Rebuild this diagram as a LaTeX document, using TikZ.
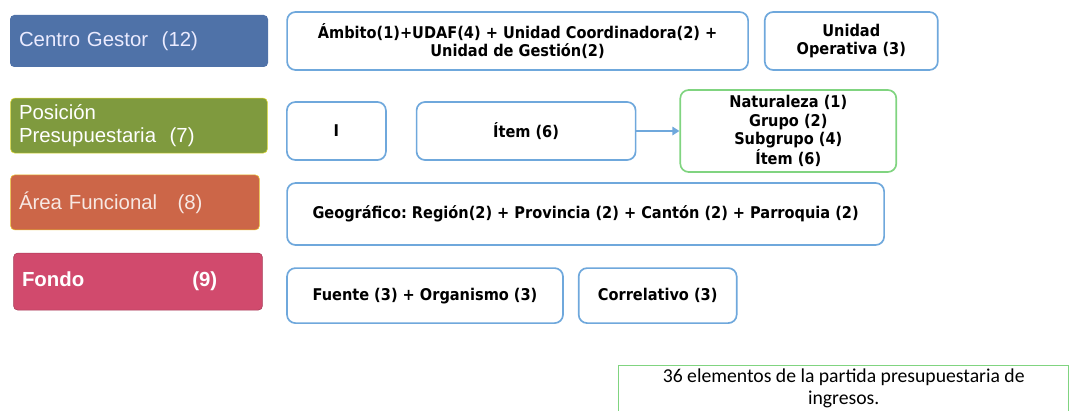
\documentclass[tikz,border=0pt]{standalone}
\usepackage{fontspec}
\setmainfont{Liberation Sans}
\newfontfamily\condfont{DejaVu Sans Condensed}
\newfontfamily\notefont{Carlito}
\usetikzlibrary{positioning,arrows.meta}

\definecolor{cgblue}{HTML}{4F72A8}
\definecolor{ppgreen}{HTML}{7F9A3E}
\definecolor{afred}{HTML}{CC6648}
\definecolor{fopink}{HTML}{D14A6D}
\definecolor{boxblue}{HTML}{6FA8DC}
\definecolor{boxgreen}{HTML}{80D480}

\tikzset{
  catbox/.style={rectangle, rounded corners=3pt, minimum height=1.35cm,
    text=white, font=\fontsize{14.5}{16.5}\selectfont, inner xsep=6pt},
  partbox/.style={draw=boxblue, line width=1.2pt, rectangle, rounded corners=6pt,
    minimum height=1.45cm, align=center, font=\condfont\bfseries\fontsize{11.5}{13}\selectfont},
  notebox/.style={draw=boxgreen, line width=1pt, rectangle, minimum width=11.25cm,
    inner ysep=2pt, align=center, anchor=north west,
    font=\notefont\fontsize{14}{16}\selectfont}
}

\begin{document}
\begin{tikzpicture}
 \useasboundingbox (0,0) rectangle (26.825,-10.25);

 % left column
 \node[catbox, fill=cgblue, text=blue!8, minimum width=6.45cm, text width=6cm,
   minimum height=1.3cm] (cg) at (3.475,-1.025) {Centro Gestor\ \ (12)};
 \node[catbox, fill=ppgreen, draw=yellow!70!ppgreen, minimum width=6.35cm, text width=6cm,
   align=left, minimum height=1.375cm] (pp) at (3.475,-3.14)
   {Posición\\Presupuestaria\ \ (7)};
 \node[catbox, fill=afred, draw=yellow!60!afred, minimum width=6.15cm, text width=5.8cm,
   minimum height=1.375cm, text=white!85!afred] (af) at (3.375,-5.06)
   {Área Funcional\ \ \ (8)};
 \node[catbox, fill=fopink, draw=fopink!80!black, minimum width=6.2cm, text width=5.8cm,
   minimum height=1.425cm, font=\bfseries\fontsize{14.5}{16.5}\selectfont] (fo) at (3.45,-7.04)
   {Fondo\hspace{2.7cm}(9)};

 % right side
 \node[partbox, minimum width=11.525cm] (amb) at (12.94,-1.025)
   {Ámbito(1)+UDAF(4)\ + Unidad Coordinadora(2)\ +\\Unidad de Gestión(2)};
 \node[partbox, minimum width=4.325cm, right=0.375cm of amb] (uop)
   {Unidad\\Operativa (3)};

 \node[partbox, minimum width=2.475cm] (ii) at (8.41,-3.275) {I};
 \node[partbox, minimum width=5.475cm, right=0.725cm of ii] (item) {Ítem (6)};
 \node[partbox, draw=boxgreen, minimum width=5.4cm, minimum height=2.05cm,
   right=1.075cm of item] (nat)
   {Naturaleza (1)\\Grupo\ (2)\\Subgrupo\ (4)\\Ítem (6)};

 \node[partbox, minimum width=14.925cm, minimum height=1.55cm] (geo) at (14.64,-5.35)
   {Geográfico:\ Región(2)\ + Provincia\ (2) + Cantón\ (2) + Parroquia\ (2)};

 \node[partbox, minimum width=6.9cm, minimum height=1.375cm] (fue) at (10.625,-7.39)
   {Fuente\ (3) + Organismo\ (3)};
 \node[partbox, minimum width=3.95cm, minimum height=1.375cm, right=0.35cm of fue] (cor)
   {Correlativo\ (3)};

 \node[notebox] (note) at (15.45,-9.125)
   {36 elementos de la partida presupuestaria de\\ingresos.\\ \strut};

 \draw[boxblue, line width=1.2pt, -{Triangle[length=5pt,width=6pt]}] (item) -- (nat);
\end{tikzpicture}
\end{document}
